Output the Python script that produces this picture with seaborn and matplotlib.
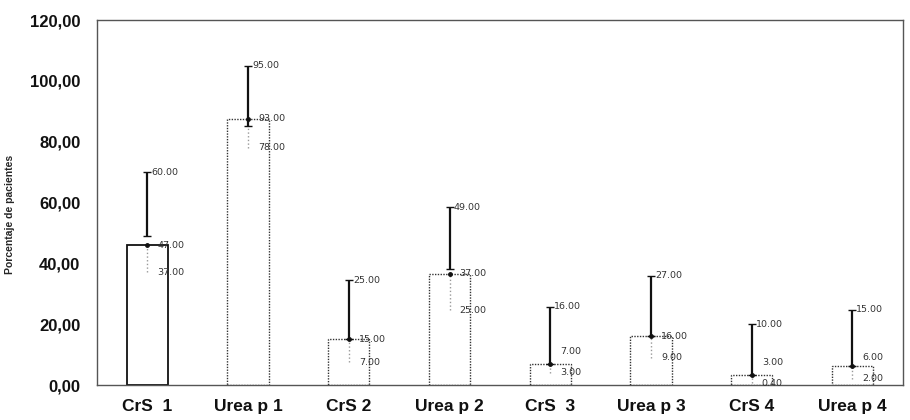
import pandas as pd
import seaborn as sns
import matplotlib.pyplot as plt
from matplotlib.ticker import FuncFormatter, FixedLocator

# values
categories = ["CrS  1", "Urea p 1", "CrS 2", "Urea p 2", "CrS  3", "Urea p 3", "CrS 4", "Urea p 4"]
bar_values = [46, 87.5, 15, 36.5, 7, 16, 3.3, 6.3]
err_high = [70, 105, 34.5, 58.5, 25.7, 36, 20, 24.7]
err_low = [49, 85, 15, 38, 7, 16, 3.3, 6.3]
low_values = [37, 78, 7.5, 24.5, 4, 9, 0.5, 2]
label_high = ["60.00", "95.00", "25.00", "49.00", "16.00", "27.00", "10.00", "15.00"]
label_mid = ["47.00", "93.00", "15.00", "37.00", "7.00", "16.00", "3.00", "6.00"]
label_low = ["37.00", "78.00", "7.00", "25.00", "3.00", "9.00", "0.40", "2.00"]

df = pd.DataFrame({"grupo": categories, "valor": bar_values})

sns.set_style("white")
plt.rcParams['font.family'] = ['Liberation Sans', 'DejaVu Sans']

fig = plt.figure(figsize=(9.1, 4.2), dpi=100)
ax = fig.add_axes([0.1066, 0.0833, 0.8854, 0.869])

sns.barplot(data=df, x="grupo", y="valor", color="white", edgecolor="black",
            width=0.41, errorbar=None, ax=ax)

for i, p in enumerate(ax.patches):
    p.set_facecolor("white")
    if i == 0:
        p.set_linewidth(1.3)
        p.set_linestyle("-")
        p.set_edgecolor("#111111")
    else:
        p.set_linewidth(1.0)
        p.set_linestyle((0, (1, 1)))
        p.set_edgecolor("#333333")

x = list(range(len(categories)))

# lower part: grey dotted line from bar top down to the low value
ax.vlines(x, low_values, bar_values, colors="#999999", linestyles=":", linewidth=1)

# upper black error bar
mids = [(lo + hi) / 2 for lo, hi in zip(err_low, err_high)]
ax.errorbar(x, mids, yerr=[[m - lo for m, lo in zip(mids, err_low)],
                           [hi - m for m, hi in zip(mids, err_high)]],
            fmt="none", ecolor="#111111", elinewidth=1.6, capsize=3, capthick=1)
ax.plot(x, bar_values, linestyle="none", marker="o", ms=2.5, color="#111111")

lab_kw = dict(fontsize=6.8, color="#333333", family=["DejaVu Sans"], ha="left", va="center")
for i in x:
    ax.text(i + 0.04, err_high[i], label_high[i], **lab_kw)
    ax.text(i + 0.1, max(bar_values[i], low_values[i] + 7), label_mid[i], **lab_kw)
    ax.text(i + 0.1, low_values[i], label_low[i], **lab_kw)

ax.set_ylim(0, 120)
ax.set_xlim(-0.5, len(categories) - 0.5)
ax.yaxis.set_major_locator(FixedLocator([0, 20, 40, 60, 80, 100, 120]))
ax.yaxis.set_major_formatter(FuncFormatter(lambda v, pos: f"{v:.2f}".replace(".", ",")))
ax.set_xticks(x)
ax.set_xticklabels(categories, fontsize=12.5, fontweight="bold", color="#111111")
ax.set_xticks([k + 0.5 for k in x[:-1]], minor=True)
ax.tick_params(axis="x", which="major", length=0, pad=10)
ax.tick_params(axis="x", which="minor", length=4, direction="inout", color="#777777")
ax.tick_params(axis="y", length=3, direction="in", color="#777777", pad=12,
               labelsize=12, labelcolor="#111111")
for t in ax.get_yticklabels():
    t.set_fontweight("bold")

ax.set_xlabel("")
ax.set_ylabel("Porcentaje de pacientes", fontsize=7.5, fontweight="bold")
ax.yaxis.set_label_coords(-0.102, 0.467)

for s in ax.spines.values():
    s.set_visible(True)
    s.set_linestyle((0, (1, 1)))
    s.set_linewidth(1.0)
    s.set_edgecolor("#555555")

fig.savefig("out.png", dpi=100)
